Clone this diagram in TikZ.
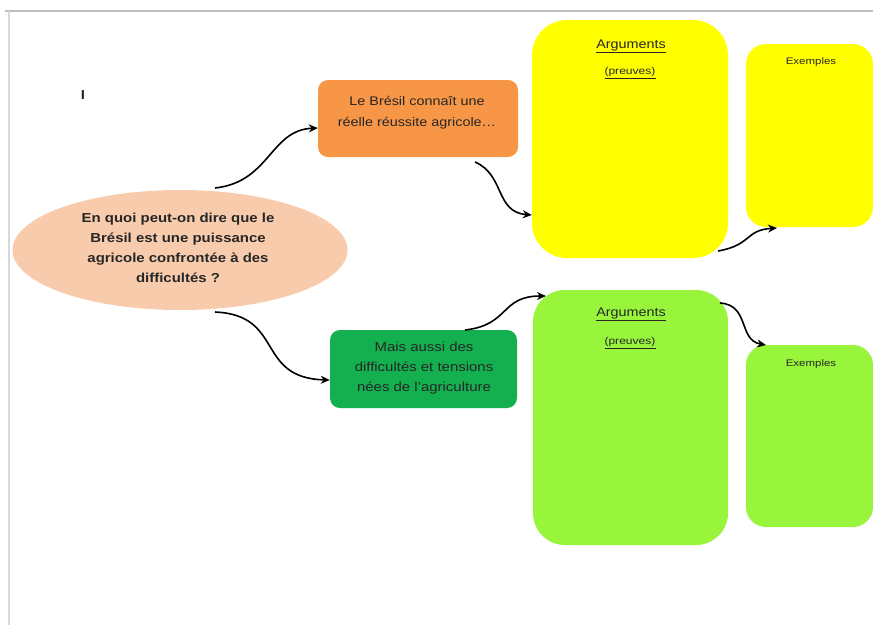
\documentclass[tikz,border=0pt]{standalone}
\usepackage{fontspec}
\setmainfont{Liberation Sans}
\usetikzlibrary{arrows.meta,shapes.geometric}
\definecolor{peach}{HTML}{F8CBAD}
\definecolor{orangebox}{HTML}{F79646}
\definecolor{greenbox}{HTML}{14B050}
\definecolor{yel}{HTML}{FFFF00}
\definecolor{lime}{HTML}{99F53C}
\definecolor{frame}{HTML}{BEBEBE}
\tikzset{
  conn/.style={draw=black, line width=1.6pt, -{Stealth[length=9pt,width=8pt]}},
  txt/.style={text=black!85, align=center, inner sep=0pt, xscale=1.15, transform shape},
}
\begin{document}
\begin{tikzpicture}[x=1pt,y=-1pt]
\useasboundingbox (0,0) rectangle (873,625);
\fill[white] (0,0) rectangle (873,625);
% page frame
\draw[frame, line width=2pt] (5,11) -- (873,11);
\draw[frame!60, line width=1.2pt] (9,11) -- (9,625);
% stray cursor
\node[txt, font=\bfseries\fontsize{13}{13}\selectfont] (cur) at (83,95) {I};
% central question
\node[ellipse, fill=peach, minimum width=335pt, minimum height=120pt, inner sep=0pt] (q) at (180,250) {};
\node[txt, font=\bfseries\fontsize{13}{20}\selectfont] (qt) at (178,248) {En quoi peut-on dire que le\\Brésil est une puissance\\agricole confrontée à des\\difficultés ?};
% orange box
\path[fill=orangebox, rounded corners=10pt] (318,80) rectangle (518,157);
\node[inner sep=0pt, minimum width=200pt, minimum height=77pt] (ob) at (418,118.5) {};
\node[txt, font=\fontsize{12.5}{21}\selectfont] (obt) at (417,113) {Le Brésil connaît une\\réelle réussite agricole…};
% green box
\path[fill=greenbox, rounded corners=10pt] (330,330) rectangle (517,408);
\node[inner sep=0pt, minimum width=187pt, minimum height=78pt] (gb) at (423.5,369) {};
\node[txt, font=\fontsize{13}{20}\selectfont] (gbt) at (424,368) {Mais aussi des\\difficultés et tensions\\nées de l'agriculture};
% yellow argument box
\path[fill=yel, rounded corners=35pt] (532,20) rectangle (728,258);
\node[inner sep=0pt, minimum width=196pt, minimum height=238pt] (ya) at (630,139) {};
\node[txt, font=\fontsize{12.5}{12.5}\selectfont] (yat) at (631,46) {\underline{Arguments}};
\node[txt, font=\fontsize{10}{10}\selectfont, xscale=1.05] (yap) at (630,73) {\underline{(preuves)}};
% yellow examples box
\path[fill=yel, rounded corners=20pt] (746,44) rectangle (873,227);
\node[inner sep=0pt, minimum width=127pt, minimum height=183pt] (ye) at (809.5,135.5) {};
\node[txt, font=\fontsize{9.5}{9.5}\selectfont, xscale=1.05] (yet) at (811,62) {Exemples};
% green argument box
\path[fill=lime, rounded corners=32pt] (533,290) rectangle (728,545);
\node[inner sep=0pt, minimum width=195pt, minimum height=255pt] (ga) at (630.5,417.5) {};
\node[txt, font=\fontsize{12.5}{12.5}\selectfont] (gat) at (631,314) {\underline{Arguments}};
\node[txt, font=\fontsize{10}{10}\selectfont, xscale=1.05] (gap) at (630,343) {\underline{(preuves)}};
% green examples box
\path[fill=lime, rounded corners=20pt] (746,345) rectangle (873,527);
\node[inner sep=0pt, minimum width=127pt, minimum height=182pt] (ge) at (809.5,436) {};
\node[txt, font=\fontsize{9.5}{9.5}\selectfont, xscale=1.05] (get) at (811,364) {Exemples};
% connectors
\coordinate (a1) at (215,188);
\coordinate (a2) at (215,312);
\coordinate (a3) at (475,162);
\coordinate (a4) at (465,330);
\coordinate (a5) at (718,251);
\coordinate (a6) at (720,303);
\coordinate (e5) at (777,228);
\coordinate (e4) at (546,296);
\coordinate (e6) at (766,345);
\draw[conn] (a1) .. controls (270,182) and (270,130) .. (ob.west |- 0,128);
\draw[conn] (a3) .. controls (505,175) and (495,212) .. (ya.west |- 0,215);
\draw[conn] (a2) .. controls (285,315) and (255,378) .. (gb.west |- 0,380);
\draw[conn] (a4) .. controls (510,325) and (500,296) .. (e4);
\draw[conn] (a5) .. controls (752,245) and (745,230) .. (e5);
\draw[conn] (a6) .. controls (750,305) and (738,340) .. (e6);
\end{tikzpicture}
\end{document}
